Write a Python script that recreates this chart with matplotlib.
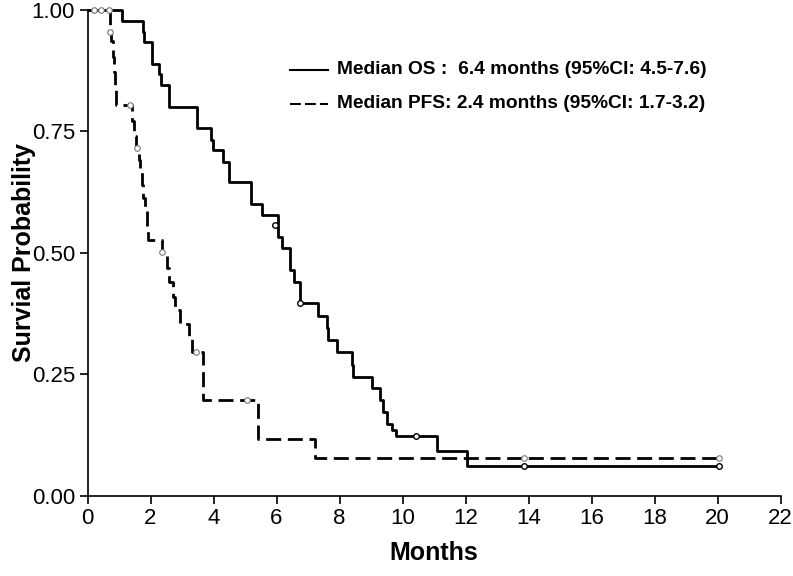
import matplotlib
matplotlib.use("Agg")
import matplotlib.pyplot as plt
from matplotlib.lines import Line2D

plt.rcParams['font.family'] = ['Liberation Sans', 'DejaVu Sans']

# overall survival: step times and survival after each step
os_t = [0, 1.09, 1.75, 1.80, 2.06, 2.27, 2.32, 2.59, 3.49, 3.92, 3.97, 4.29, 4.50,
        5.19, 5.53, 6.06, 6.18, 6.43, 6.56, 6.75, 7.33, 7.59, 7.65, 7.91, 8.39,
        8.44, 9.02, 9.29, 9.39, 9.50, 9.66, 9.79, 11.10, 12.06, 20.05]
os_s = [1.0, 0.977, 0.954, 0.933, 0.889, 0.867, 0.845, 0.800, 0.756, 0.732, 0.711,
        0.687, 0.645, 0.600, 0.578, 0.532, 0.509, 0.465, 0.440, 0.396, 0.371,
        0.345, 0.321, 0.297, 0.269, 0.245, 0.221, 0.197, 0.173, 0.149, 0.136,
        0.123, 0.0925, 0.062, 0.062]
os_cens_t = [5.96, 6.75, 10.43, 13.86, 20.05]
os_cens_s = [0.557, 0.396, 0.123, 0.062, 0.062]

# progression-free survival
pfs_t = [0, 0.72, 0.76, 0.80, 0.83, 0.87, 0.90, 1.42, 1.47, 1.55, 1.62, 1.67, 1.72,
         1.77, 1.83, 1.88, 1.92, 2.37, 2.53, 2.60, 2.70, 2.78, 2.94, 3.23, 3.31,
         3.66, 5.42, 7.22, 20.05]
pfs_s = [1.0, 0.968, 0.935, 0.903, 0.871, 0.839, 0.803, 0.770, 0.740, 0.715, 0.690,
         0.665, 0.640, 0.612, 0.585, 0.555, 0.526, 0.500, 0.469, 0.440, 0.410,
         0.382, 0.354, 0.328, 0.295, 0.197, 0.117, 0.079, 0.079]
pfs_cens_t = [0.20, 0.43, 0.67, 0.72, 1.35, 1.58, 2.35, 3.44, 5.05, 13.86, 20.05]
pfs_cens_s = [1.0, 1.0, 1.0, 0.953, 0.803, 0.715, 0.502, 0.295, 0.197, 0.079, 0.079]

labels = ["Median OS :  6.4 months (95%CI: 4.5-7.6)",
          "Median PFS: 2.4 months (95%CI: 1.7-3.2)"]

W, H = 793, 576
fig = plt.figure(figsize=(W / 100, H / 100), dpi=100)
ax = fig.add_axes([87.5 / W, 80 / H, 693 / W, 486.5 / H])

ax.step(os_t, os_s, where='post', color='black', lw=2.0, clip_on=False)
ax.step(pfs_t, pfs_s, where='post', color='black', lw=2.0, dashes=(5.4, 2.4),
        clip_on=False)
ax.plot(os_cens_t, os_cens_s, 'o', ms=4, mfc='white', mec='black', mew=1.0,
        clip_on=False, zorder=4)
ax.plot(pfs_cens_t, pfs_cens_s, 'o', ms=4, mfc='white', mec='#777777', mew=0.8,
        clip_on=False, zorder=4)

ax.set_xlim(0, 22)
ax.set_ylim(0, 1)
ax.set_xticks(range(0, 23, 2))
ax.set_yticks([0, 0.25, 0.5, 0.75, 1.0])
ax.set_yticklabels(["0.00", "0.25", "0.50", "0.75", "1.00"])
ax.tick_params(direction='out', length=6, width=1.2, labelsize=16, pad=3)
for s in ['top', 'right']:
    ax.spines[s].set_visible(False)
for s in ['left', 'bottom']:
    ax.spines[s].set_linewidth(1.2)

ax.set_xlabel("Months", fontsize=18, fontweight='bold')
ax.set_ylabel("Survial Probability", fontsize=18, fontweight='bold')
ax.xaxis.set_label_coords(0.5, (496 - 541) / 486.5)
ax.yaxis.set_label_coords((36 - 87.5) / 693, 0.5)

# legend drawn by hand, in figure pixels
rows = [(H - 70, (0,)), (H - 104, (5.2, 2.0))]
for (yp, dash), lab in zip(rows, labels):
    ln = Line2D([290 / W, 328 / W], [yp / H, yp / H], color='black', lw=1.5,
                transform=fig.transFigure)
    if dash != (0,):
        ln.set_dashes(dash)
    fig.add_artist(ln)
    fig.text(337 / W, yp / H, lab, fontsize=13.8, fontweight='bold',
             ha='left', va='center')

fig.savefig("out.png", dpi=100)
